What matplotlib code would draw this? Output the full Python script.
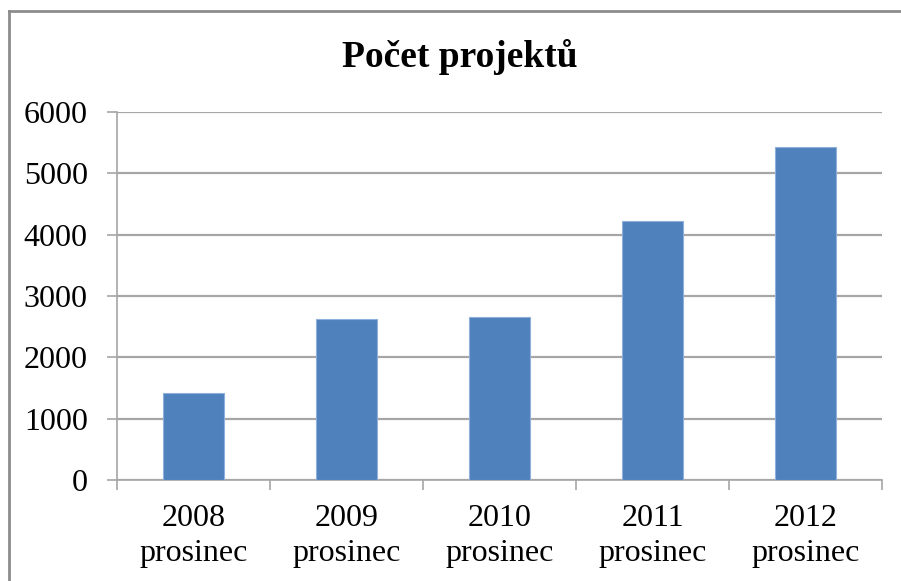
import matplotlib
matplotlib.use("Agg")
import matplotlib.pyplot as plt
from matplotlib.lines import Line2D

years = ["2008", "2009", "2010", "2011", "2012"]
month = "prosinec"
values = [1426, 2624, 2652, 4220, 5434]
yticks = [0, 1000, 2000, 3000, 4000, 5000, 6000]
title = "Počet projektů"

plt.rcParams['font.family'] = ['Liberation Serif', 'DejaVu Serif']

W, H = 901, 581
fig = plt.figure(figsize=(W / 100, H / 100), dpi=100)
ax = fig.add_axes([117 / W, (H - 480) / H, (882 - 117) / W, 368 / H])

grid_c = "#A6A6A6"
x = list(range(len(years)))
ax.bar(x, values, width=0.4, color="#4F81BD", edgecolor="#8EB0DA", linewidth=0.8, zorder=3)

ax.set_xlim(-0.5, len(years) - 0.5)
ax.set_ylim(0, 6000)
ax.set_yticks(yticks)
ax.set_yticklabels([str(v) for v in yticks])
ax.yaxis.grid(True, color=grid_c, linewidth=1.6, zorder=0)
ax.set_axisbelow(True)

ax.set_xticks(x)
ax.set_xticklabels([f"{y}\n{month}" for y in years], linespacing=1.3)
ax.set_xticks([i - 0.5 for i in range(len(years) + 1)], minor=True)
ax.tick_params(axis="x", which="major", length=0, pad=17, labelsize=23)
ax.tick_params(axis="x", which="minor", length=7, width=1.2, color=grid_c, direction="out")
ax.tick_params(axis="y", length=7, width=1.2, color=grid_c, pad=14, labelsize=23)

for s in ["top", "right"]:
    ax.spines[s].set_visible(False)
for s in ["left", "bottom"]:
    ax.spines[s].set_color(grid_c)
    ax.spines[s].set_linewidth(1.2)

fig.text(460 / W, 1 - 57 / H, title, ha="center", va="center",
         fontsize=27, fontweight="bold")

# chart area border (left and top visible)
fig.add_artist(Line2D([8.5 / W, 8.5 / W], [0, 1 - 10.5 / H], transform=fig.transFigure,
                      color="#8C8C8C", linewidth=2))
fig.add_artist(Line2D([8.5 / W, 1], [1 - 10.5 / H, 1 - 10.5 / H], transform=fig.transFigure,
                      color="#8C8C8C", linewidth=2))

fig.savefig("out.png", dpi=100)
